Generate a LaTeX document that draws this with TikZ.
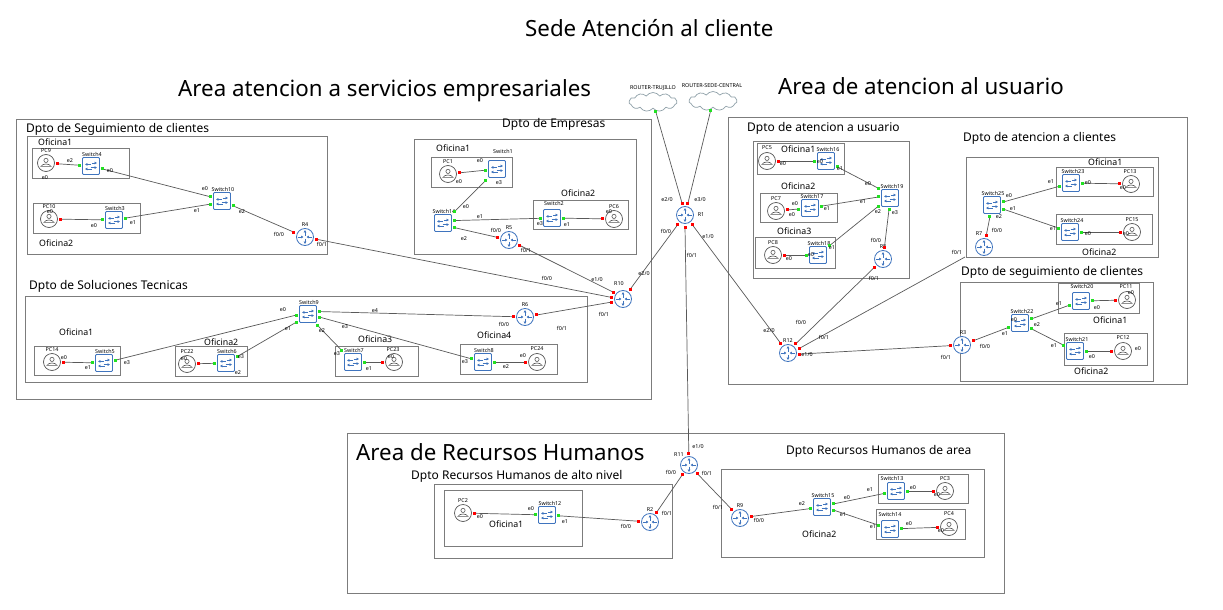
\documentclass[tikz,border=0pt]{standalone}
\usepackage{fontspec}
\setmainfont{Noto Sans}
\usetikzlibrary{arrows.meta,shapes.symbols}
\definecolor{netblue}{HTML}{3F74BE}
\definecolor{boxgray}{HTML}{7C7C7C}
\definecolor{pcgray}{HTML}{555555}
\definecolor{portgreen}{HTML}{22E022}
\definecolor{cloudgray}{HTML}{8FA0A8}
\tikzset{
    every node/.style={align=center,},
    tinyfont/.style={font=\fontsize{5.4}{6}\selectfont\bfseries,inner sep=0pt,text=black},
    devlabel/.style={tinyfont},
    portlabel/.style={tinyfont},
    areatitle/.style={anchor=west,inner sep=0pt,font=\fontsize{22.3}{23}\selectfont},
    dptotitle/.style={anchor=west,inner sep=0pt,font=\fontsize{12}{12}\selectfont},
    oficinatitle/.style={anchor=west,inner sep=0pt,font=\fontsize{8.8}{10}\selectfont},
    groupbox/.style={draw=boxgray,line width=0.9pt},
    link/.style={draw=black!65,line width=0.7pt},
    rp/.style={fill=red,minimum size=3pt,inner sep=0pt},
    gp/.style={fill=portgreen,minimum size=3pt,inner sep=0pt},
    icon/.style={draw=netblue,line width=0.9pt,-{Latex[length=2.4pt,width=3pt]}},
    router/.style={circle,draw=netblue,line width=0.8pt,fill=white,minimum size=17pt,inner sep=0pt,outer sep=3.5pt,
        path picture={\begin{scope}[shift={(path picture bounding box.center)}]
            \draw[icon] (0,-1.5) -- (0,-7);
            \draw[icon] (0,1.5) -- (0,7);
            \draw[icon] (-7,0) -- (-1.5,0);
            \draw[icon] (7,0) -- (1.5,0);
        \end{scope}}},
    switchbox/.style={rectangle,rounded corners=1pt,draw=netblue,line width=0.8pt,fill=white,minimum size=17pt,inner sep=0pt,outer sep=3pt,
        path picture={\begin{scope}[shift={(path picture bounding box.center)}]
            \draw[icon] (0.5,-3) -- (6,-3);
            \draw[icon] (-0.5,-1.6) -- (-6,-1.6);
            \draw[icon] (0.5,3) -- (-6,3);
            \draw[icon] (-0.5,1.6) -- (6,1.6);
        \end{scope}}},
    pcicon/.style={circle,draw=pcgray,line width=0.7pt,fill=white,minimum size=17pt,inner sep=0pt,outer sep=3pt,
        path picture={\begin{scope}[shift={(path picture bounding box.center)}]
            \draw[pcgray,line width=0.6pt] (0,-2.6) circle (2.1);
            \draw[pcgray,line width=0.6pt] (-5,3.4) .. controls (-3.5,0.2) and (3.5,0.2) .. (5,3.4) -- cycle;
        \end{scope}}},
    wan/.style={cloud,cloud puffs=11,cloud puff arc=110,aspect=2.6,draw=cloudgray,line width=0.7pt,fill=white,minimum width=48pt,minimum height=19pt,inner sep=0pt,outer sep=1pt},
}
\begin{document}
\begin{tikzpicture}[x=1pt,y=-1pt]
    \useasboundingbox (0,0) rectangle (1223,610);

    % areas, departments and offices
    \foreach \id/\xa/\ya/\xb/\yb in {
        areaserv/16/119/651/399, dptoseg/27/136/327/254, ofseg1/32/148/129/178, ofseg2/33/203/140/233,
        dptoemp/414/139/636/254, ofemp1/431/157/512/187, ofemp2/533/200/628/229,
        dptosol/25/296/587/382, ofsol1/34/346/120/375, ofsol2/175/346/247/376, ofsol3/335/346/418/376, ofsol4/460/344/557/374,
        areauser/728/117/1187/384, dptoate/753/141/909/278, ofate1/757/143/844/174, ofate2/760/193/837/222, ofate3/755/237/835/268,
        dptocli/966/157/1158/257, ofcli1/1056/167/1153/196, ofcli2/1056/214/1152/244,
        dptosc/960/282/1153/381, ofsc1/1058/283/1139/313, ofsc2/1064/333/1147/365,
        arearh/347/433/1004/593, dptoalto/434/484/672/558, ofalto/444/490/582/546,
        dptorha/721/469/984/557, ofrha1/878/474/968/503, ofrha2/876/509/965/539}
        {\draw[groupbox] (\xa,\ya) rectangle (\xb,\yb);}

    % titles
    \node[areatitle] (t_sede) at (525,28) {Sede Atención al cliente};
    \node[areatitle] (t_serv) at (178,91) {Area atencion a servicios empresariales};
    \node[areatitle] (t_user) at (778,86) {Area de atencion al usuario};
    \node[areatitle] (t_rh) at (356,452) {Area de Recursos Humanos};
    \node[dptotitle] (t_seg) at (26,129) {Dpto de Seguimiento de clientes};
    \node[dptotitle] (t_emp) at (502,124) {Dpto de Empresas};
    \node[dptotitle] (t_sol) at (29,286) {Dpto de Soluciones Tecnicas};
    \node[dptotitle] (t_ate) at (747,128) {Dpto de atencion a usuario};
    \node[dptotitle] (t_cli) at (963,138) {Dpto de atencion a clientes};
    \node[dptotitle] (t_sc) at (961,272) {Dpto de seguimiento de clientes};
    \node[dptotitle] (t_alto) at (411,476) {Dpto Recursos Humanos de alto nivel};
    \node[dptotitle] (t_rha) at (786,451) {Dpto Recursos Humanos de area};
    \foreach \id/\x/\y/\txt in {
        o1/38/142/Oficina1, o2/39/243/Oficina2, o3/436/148/Oficina1, o4/561/193/Oficina2,
        o5/59/332/Oficina1, o6/204/342/Oficina2, o7/358/339/Oficina3, o8/477/335/Oficina4,
        o9/781/149/Oficina1, o10/781/186/Oficina2, o11/777/231/Oficina3,
        o12/1088/162/Oficina1, o13/1082/252/Oficina2, o14/1093/320/Oficina1, o15/1074/371/Oficina2,
        o16/489/524/Oficina1, o17/802/534/Oficina2}
        {\node[oficinatitle] (\id) at (\x,\y) {\txt};}

    % devices: name, centre, label position, label
    \foreach \id/\x/\y/\lx/\ly/\txt in {
        r1/685/215/701/215/R1, r2/650/522/650/510/R2, r3/962/345/963/333/R3, r4/305/237/305/225/R4,
        r5/509/240/509/228/R5, r6/525/317/525/305/R6, r7/984/247/979/234/R7, r8/883/259/883/247/R8,
        r9/740/518/740/506/R9, r10/623/299/619/284/R10, r11/689/465/679/455/R11, r12/788/353/788/341/R12}
        {\node[router] (\id) at (\x,\y) {}; \node[devlabel] (\id_lab) at (\lx,\ly) {\txt};}
    \foreach \id/\x/\y/\lx/\ly/\txt in {
        sw1/497/169/503/151/Switch1, sw2/552/218/554/203/Switch2, sw3/114/220/115/208/Switch3, sw4/91/166/92/154/Switch4,
        sw5/104/363/105/351/Switch5, sw6/226/363/227/351/Switch6, sw7/353/362/354/350/Switch7, sw8/483/362/484/350/Switch8,
        sw9/308/314/309/302/Switch9, sw10/222/201/223/189/Switch10, sw12/547/515/550/503/Switch12, sw13/896/491/892/478/Switch13,
        swl14/443/223/444/211/Switch14, sw14/890/529/890/514/Switch14, sw15/822/507/823/495/Switch15, sw16/826/161/828/149/Switch16,
        sw17/810/208/812/196/Switch17, sw18/818/255/819/243/Switch18, sw19/890/198/892/186/Switch19, sw20/1081/301/1082/286/Switch20,
        sw21/1075/351/1077/339/Switch21, sw22/1020/323/1022/311/Switch22, sw23/1071/183/1073/171/Switch23,
        sw24/1070/232/1072/220/Switch24, sw25/992/205/993/193/Switch25}
        {\node[switchbox] (\id) at (\x,\y) {}; \node[devlabel] (\id_lab) at (\lx,\ly) {\txt};}
    \foreach \id/\x/\y/\lx/\ly/\txt in {
        pc1/448/174/448/162/PC1, pc2/463/513/463/501/PC2, pc3/945/491/945/479/PC3, pc4/949/527/949/514/PC4,
        pc5/767/161/767/148/PC5, pc6/614/219/614/207/PC6, pc7/776/211/776/199/PC7, pc8/773/255/773/243/PC8,
        pc9/46/163/46/151/PC9, pc10/49/219/49/207/PC10, pc11/1127/300/1126/287/PC11, pc12/1123/351/1123/338/PC12,
        pc13/1131/184/1130/172/PC13, pc14/52/362/52/350/PC14, pc15/1132/232/1132/220/PC15, pc22/187/364/187/352/PC22,
        pc23/394/362/393/350/PC23, pc24/537/362/537/349/PC24}
        {\node[pcicon] (\id) at (\x,\y) {}; \node[devlabel] (\id_lab) at (\lx,\ly) {\txt};}
    \node[wan] (trujillo) at (653,102) {};
    \node[wan] (central) at (713,101) {};
    \node[devlabel] (trujillo_lab) at (653,88) {ROUTER-TRUJILLO};
    \node[devlabel] (central_lab) at (712,86) {ROUTER-SEDE-CENTRAL};
    \coordinate (r7_in) at (965,257);

    % connectors
    \foreach \from/\to/\pa/\pb [count=\i] in {
        trujillo/r1.104/gp/rp, central/r1.76/gp/rp, r1.233/r10/rp/rp, r1.270/r11/rp/rp, r1.307/r12.127/rp/rp,
        r5/r10.145/rp/rp, r4/r10.172/rp/rp, r6/r10.195/rp/rp,
        pc9/sw4/rp/gp, sw4/sw10.160/gp/gp, pc10/sw3/rp/gp, sw3/sw10.195/gp/gp, sw10/r4/gp/rp,
        pc1/sw1/rp/gp, sw1/swl14.45/gp/gp, swl14.12/sw2/gp/gp, swl14.-22/r5/gp/rp, sw2/pc6/gp/rp,
        pc14/sw5/rp/gp, sw5/sw9.185/gp/gp, pc22/sw6/rp/gp, sw6/sw9.215/gp/gp, sw7/pc23/gp/rp,
        sw9.-50/sw7/gp/gp, sw8/pc24/gp/rp, sw9.-15/sw8/gp/gp, sw9.12/r6/gp/rp,
        pc5/sw16/rp/gp, sw16/sw19.140/gp/gp, pc7/sw17/rp/gp, sw17/sw19.175/gp/gp, pc8/sw18/rp/gp, sw18/sw19.215/gp/gp,
        sw19.265/r8/gp/rp, r8/r12.50/rp/rp,
        sw25.-100/r7/gp/rp, sw25.15/sw23/gp/gp, sw25.-20/sw24/gp/gp, sw23/pc13/gp/rp, sw24/pc15/gp/rp,
        r12.-5/r3/rp/rp, r3/sw22/rp/gp, sw22/sw20/gp/gp, sw22/sw21/gp/gp, sw20/pc11/gp/rp, sw21/pc12/gp/rp,
        r11/r2/rp/rp, r2/sw12/rp/gp, sw12/pc2/gp/rp, r11/r9/rp/rp, r9/sw15/rp/gp,
        sw15.15/sw13/gp/gp, sw15.-15/sw14/gp/gp, sw13/pc3/gp/rp, sw14/pc4/gp/rp}
        {\draw[link] (\from) -- node[\pa,pos=0] (pa\i) {} node[\pb,pos=1] (pb\i) {} (\to);}
    \draw[link] (r12.22) -- node[rp,pos=0] (pa_r7) {} (r7_in);

    % port labels
    \foreach \x/\y/\txt in {
        70/161/e2, 110/171/e0, 45/178/e0, 205/189/e0, 197/211/e1, 242/212/e2, 279/234/{f0/0}, 322/244/{f0/1},
        50/212/e0, 94/226/e0, 133/223/e1,
        480/161/e0, 459/182/e0, 499/183/e3, 466/207/e0, 480/217/e1, 464/239/e2, 540/224/e3, 567/225/e1, 609/212/e0,
        496/230/{f0/0}, 526/250/{f0/1}, 597/280/{e1/0}, 547/278/{f0/0}, 644/274/{e2/0}, 604/314/{f0/1},
        667/200/{e2/0}, 700/200/{e3/0}, 666/231/{f0/0}, 692/255/{f0/1}, 708/237/{e1/0},
        64/358/e0, 88/368/e1, 127/363/e3, 283/310/e0, 288/329/e1, 322/331/e2, 345/327/e3, 375/311/e4,
        184/359/e0, 241/357/e3, 238/373/e2, 337/354/e3, 391/357/e0, 369/369/e1, 465/362/e3, 506/367/e2, 523/356/e0,
        504/324/{f0/0}, 562/328/{f0/1},
        783/164/e0, 820/162/e0, 840/169/e1, 795/204/e0, 792/215/e0, 827/209/e1, 789/259/e0, 811/255/e0, 832/248/e1,
        868/184/e0, 863/202/e1, 878/212/e2, 895/213/e3, 876/240/{f0/0}, 874/278/{f0/1},
        769/331/{e2/0}, 801/322/{f0/0}, 824/337/{f0/1}, 807/355/{e1/0}, 985/346/{f0/0}, 946/357/{f0/1}, 957/252/{f0/1},
        1051/182/e1, 1088/183/e0, 1123/188/e0, 1053/229/e1, 1088/234/e0, 1126/234/e0,
        1009/196/e0, 1013/209/e1, 999/217/e2, 997/230/{f0/0},
        1059/304/e1, 1097/308/e0, 1131/293/e0, 1054/346/e1, 1092/357/e0, 1138/349/e0, 1014/320/e0, 1005/334/e1, 1037/325/e2,
        480/517/e0, 531/509/e0, 565/522/e1, 626/526/{f0/0}, 667/513/{f0/1},
        698/447/{e1/0}, 671/472/{f0/0}, 707/473/{f0/1}, 718/507/{f0/1}, 759/520/{f0/0},
        802/504/e2, 847/498/e0, 843/515/e1, 870/490/e1, 913/488/e0, 937/495/e0, 873/527/e1, 909/524/e0, 941/531/e0}
        {\node[portlabel] (lab\x_\y) at (\x,\y) {\txt};}
\end{tikzpicture}
\end{document}
